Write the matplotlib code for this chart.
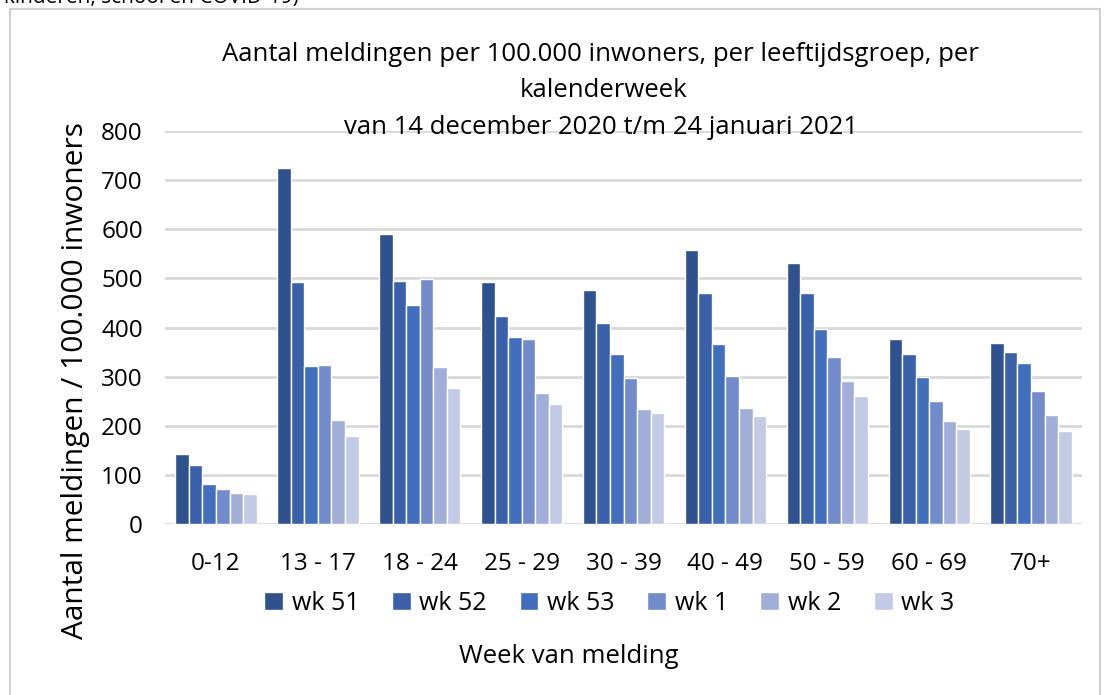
import matplotlib.pyplot as plt
import numpy as np
from matplotlib.patches import Rectangle

plt.rcParams['font.family'] = ['Open Sans', 'DejaVu Sans']

groups = ['0-12', '13 - 17', '18 - 24', '25 - 29', '30 - 39', '40 - 49', '50 - 59', '60 - 69', '70+']
weeks = ['wk 51', 'wk 52', 'wk 53', 'wk 1', 'wk 2', 'wk 3']

wk51 = [143, 725, 590, 492, 476, 557, 532, 377, 368]
wk52 = [121, 493, 495, 423, 410, 471, 470, 347, 351]
wk53 = [81, 322, 445, 380, 346, 366, 398, 299, 328]
wk1 = [71, 323, 498, 376, 297, 302, 341, 251, 271]
wk2 = [63, 212, 320, 266, 234, 236, 292, 210, 222]
wk3 = [62, 179, 277, 244, 225, 219, 261, 193, 190]
series = [wk51, wk52, wk53, wk1, wk2, wk3]

colors = ['#2F528F', '#3A60A9', '#426EBE', '#728BCB', '#A0AED8', '#C2CAE6']

fig = plt.figure(figsize=(11.08, 6.95), dpi=100)
ax = fig.add_axes([0.149, 0.246, 0.8275, 0.5655])

x = np.arange(len(groups))
w = 0.133
for i, (vals, c) in enumerate(zip(series, colors)):
    ax.bar(x + (i - 2.5) * w, vals, width=w, color=c, edgecolor='white',
           linewidth=1, label=weeks[i], zorder=3)

ax.set_xlim(-0.5, len(groups) - 0.5)
ax.set_ylim(0, 800)
ax.set_yticks(range(0, 801, 100))
ax.set_xticks(x)
ax.set_xticklabels(groups)
ax.tick_params(axis='both', length=0, labelsize=17.5)
ax.tick_params(axis='x', pad=20)
ax.tick_params(axis='y', pad=16)
ax.grid(axis='y', color='#D9D9D9', linewidth=2, zorder=0)
for s in ax.spines.values():
    s.set_visible(False)

fig.text(0.068, 0.453, 'Aantal meldingen / 100.000 inwoners', rotation=90,
         ha='center', va='center', fontsize=21.5)

fig.text(0.542, 0.921, 'Aantal meldingen per 100.000 inwoners, per leeftijdsgroep, per',
         ha='center', va='center', fontsize=18.5)
fig.text(0.545, 0.870, 'kalenderweek', ha='center', va='center', fontsize=18.5)
fig.text(0.542, 0.816, 'van 14 december 2020 t/m 24 januari 2021',
         ha='center', va='center', fontsize=18.5)

fig.legend(loc='center', bbox_to_anchor=(0.55, 0.132), ncol=6, frameon=False,
           fontsize=18, handlelength=0.75, handleheight=0.75, handletextpad=0.35,
           columnspacing=1.3)

fig.text(0.513, 0.055, 'Week van melding', ha='center', va='center', fontsize=18.5)

# frame of the chart area and the clipped caption above it
fig.patches.append(Rectangle((0.009, -0.01), 0.984, 0.997, transform=fig.transFigure,
                             fill=False, edgecolor='#D0D0D0', linewidth=1.5))
fig.text(0.004, 1.004, 'kinderen, school en COVID-19)', ha='left', va='center', fontsize=15)

fig.savefig('out.png', dpi=100)
